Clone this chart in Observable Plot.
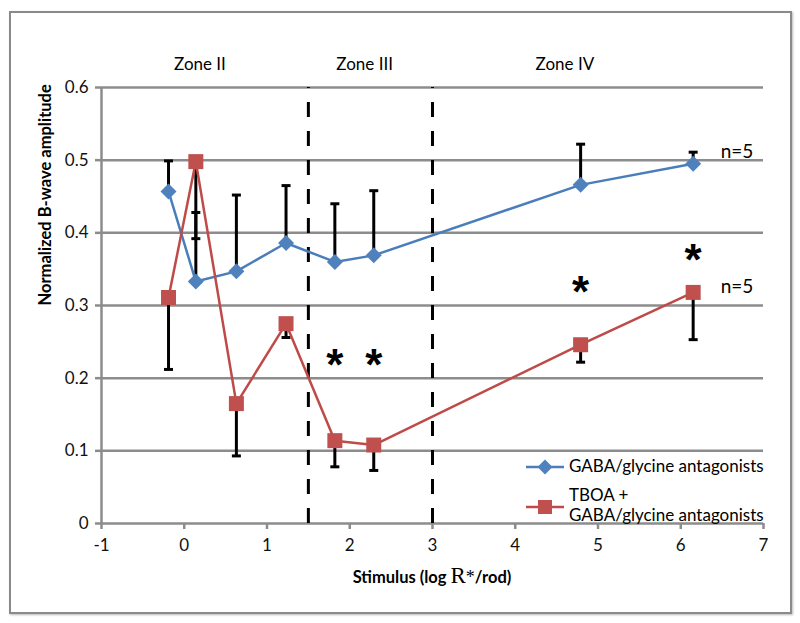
<!DOCTYPE html>
<html>
<head>
<meta charset="utf-8">
<script src="https://cdn.jsdelivr.net/npm/d3@7"></script>
<script src="https://cdn.jsdelivr.net/npm/@observablehq/plot@0.6"></script>
<style>
  html, body { margin: 0; padding: 0; background: white; }
  #wrap { position: relative; width: 800px; height: 623px; overflow: hidden; font-family: Lato, "Open Sans", sans-serif; }
  #frame { position: absolute; left: 9px; top: 11px; width: 779px; height: 599px; border: 2.5px solid #8a8a8a; box-shadow: 1px 1px 2px #bbb; pointer-events: none; }
  #legend { position: absolute; left: 524px; top: 454px; width: 242px; height: 66px; background: white; font-size: 17px; color: #000; line-height: 20px; }
  .lg { position: absolute; left: 0; }
  .lt { position: absolute; left: 45px; white-space: nowrap; }
</style>
</head>
<body>
<div id="wrap">
  <div id="chart"></div>
  <div id="frame"></div>
  <div id="legend">
    <svg class="lg" style="top:5px" width="42" height="16"><line x1="2" x2="40" y1="8" y2="8" stroke="#4a7ebb" stroke-width="2.5"/><path d="M21,0.5L28.5,8L21,15.5L13.5,8Z" fill="#4f81bd"/></svg>
    <div class="lt" style="top:2px">GABA/glycine antagonists</div>
    <svg class="lg" style="top:45px" width="42" height="16"><line x1="2" x2="40" y1="8" y2="8" stroke="#be4b48" stroke-width="2.5"/><rect x="14" y="1" width="14" height="14" fill="#c0504d"/></svg>
    <div class="lt" style="top:31px">TBOA +<br>GABA/glycine antagonists</div>
  </div>
</div>
<script>
// ---- data ----
const stim = [-0.19, 0.14, 0.63, 1.23, 1.82, 2.29, 4.79, 6.15];
const gabaAmp = [0.457, 0.333, 0.347, 0.386, 0.360, 0.369, 0.466, 0.495];
const gabaErrTop = [0.499, 0.428, 0.452, 0.465, 0.440, 0.458, 0.522, 0.511];
const tboaAmp = [0.311, 0.498, 0.165, 0.275, 0.114, 0.108, 0.246, 0.318];
const tboaErrBottom = [0.212, 0.392, 0.093, 0.256, 0.078, 0.073, 0.222, 0.253];
const zoneBounds = [1.5, 3];
const zoneNames = ["Zone II", "Zone III", "Zone IV"];
const zoneLabelX = [0.19, 2.18, 4.6];
const starX = [1.82, 2.29, 4.79, 6.15];
const starY = [0.234, 0.234, 0.334, 0.378];
const nLabels = ["n=5", "n=5"];
const nLabelX = [6.68, 6.68];
const nLabelY = [0.511, 0.325];
const xTicks = [-1, 0, 1, 2, 3, 4, 5, 6, 7];
const yTicks = [0, 0.1, 0.2, 0.3, 0.4, 0.5, 0.6];

const gaba = stim.map((x, i) => ({x, y: gabaAmp[i], e: gabaErrTop[i]}));
const tboa = stim.map((x, i) => ({x, y: tboaAmp[i], e: tboaErrBottom[i]}));
const zones = zoneNames.map((t, i) => ({t, x: zoneLabelX[i]}));
const stars = starX.map((x, i) => ({x, y: starY[i]}));
const nl = nLabels.map((t, i) => ({t, x: nLabelX[i], y: nLabelY[i]}));

const diamond = {draw(ctx, size) { const h = Math.sqrt(size / Math.PI); ctx.moveTo(0, -h); ctx.lineTo(h, 0); ctx.lineTo(0, h); ctx.lineTo(-h, 0); ctx.closePath(); }};
const square = {draw(ctx, size) { const h = Math.sqrt(size / Math.PI); ctx.rect(-h, -h, 2 * h, 2 * h); }};
const cap = {draw(ctx, size) { const h = Math.sqrt(size / Math.PI); ctx.moveTo(-h, 0); ctx.lineTo(h, 0); }};

const grid = "#8c8c8c";
const blue = "#4a7ebb", blueFill = "#4f81bd";
const red = "#be4b48", redFill = "#c0504d";

const chart = Plot.plot({
  width: 800, height: 623,
  marginLeft: 101, marginRight: 37, marginTop: 87, marginBottom: 100,
  style: {fontFamily: "Lato, 'Open Sans', sans-serif", fontSize: "17px", color: "#000", background: "transparent", overflow: "visible"},
  x: {domain: [-1, 7]},
  y: {domain: [0, 0.6]},
  marks: [
    Plot.ruleY(yTicks.filter(d => d > 0), {stroke: grid, strokeWidth: 2.5}),
    Plot.axisY({ticks: yTicks, tickFormat: d => String(d), tickSize: 6, tickPadding: 7, stroke: grid, strokeWidth: 2.5, fill: "#111", fontSize: 17, label: null}),
    Plot.axisX({ticks: xTicks, tickFormat: d => String(d), tickSize: 6, tickPadding: 9, stroke: grid, strokeWidth: 2.5, fill: "#111", fontSize: 17, label: null}),
    Plot.ruleX([-1], {stroke: grid, strokeWidth: 2.5}),
    Plot.ruleY([0], {stroke: grid, strokeWidth: 2.5}),
    Plot.ruleX(zoneBounds, {y1: 0, y2: 0.6, stroke: "#000", strokeWidth: 3, strokeDasharray: "15,14"}),
    Plot.text(zones, {x: "x", text: "t", frameAnchor: "top", dy: -30, fontSize: 17}),
    // GABA series
    Plot.ruleX(gaba, {x: "x", y1: "y", y2: "e", stroke: "#000", strokeWidth: 3}),
    Plot.dot(gaba, {x: "x", y: "e", symbol: cap, r: 4.5, stroke: "#000", strokeWidth: 3}),
    Plot.line(gaba, {x: "x", y: "y", stroke: blue, strokeWidth: 2.5}),
    Plot.dot(gaba, {x: "x", y: "y", symbol: diamond, r: 8, fill: blueFill}),
    // TBOA series
    Plot.ruleX(tboa, {x: "x", y1: "y", y2: "e", stroke: "#000", strokeWidth: 3}),
    Plot.dot(tboa, {x: "x", y: "e", symbol: cap, r: 4.5, stroke: "#000", strokeWidth: 3}),
    Plot.line(tboa, {x: "x", y: "y", stroke: red, strokeWidth: 2.5}),
    Plot.dot(tboa, {x: "x", y: "y", symbol: square, r: 7.5, fill: redFill}),
    // annotations
    Plot.text(stars, {x: "x", y: "y", text: () => "*", fontSize: 44, fontWeight: "bold", dy: 12, fontFamily: "Liberation Sans, Arial, sans-serif"}),
    Plot.text(nl, {x: "x", y: "y", text: "t", fontSize: 19}),
    Plot.text(["Normalized B-wave amplitude"], {frameAnchor: "left", dx: -56, rotate: -90, fontWeight: "bold", fontSize: 16.5})
  ]
});
document.getElementById("chart").appendChild(chart);

// x-axis title with mixed fonts
const svg = d3.select(chart);
const t = svg.append("text")
  .attr("x", 101 + (800 - 101 - 37) / 2)
  .attr("y", 583)
  .attr("text-anchor", "middle")
  .attr("font-size", 16.5)
  .attr("font-weight", "bold")
  .attr("font-family", "Lato, 'Open Sans', sans-serif");
t.append("tspan").text("Stimulus (log ");
t.append("tspan").attr("font-family", "'Liberation Serif', 'DejaVu Serif', serif").attr("font-weight", "normal").attr("font-size", 23).text("R");
t.append("tspan").attr("font-family", "'Liberation Serif', 'DejaVu Serif', serif").attr("font-weight", "normal").attr("font-size", 18).text("*");
t.append("tspan").text("/rod)");
</script>
</body>
</html>
